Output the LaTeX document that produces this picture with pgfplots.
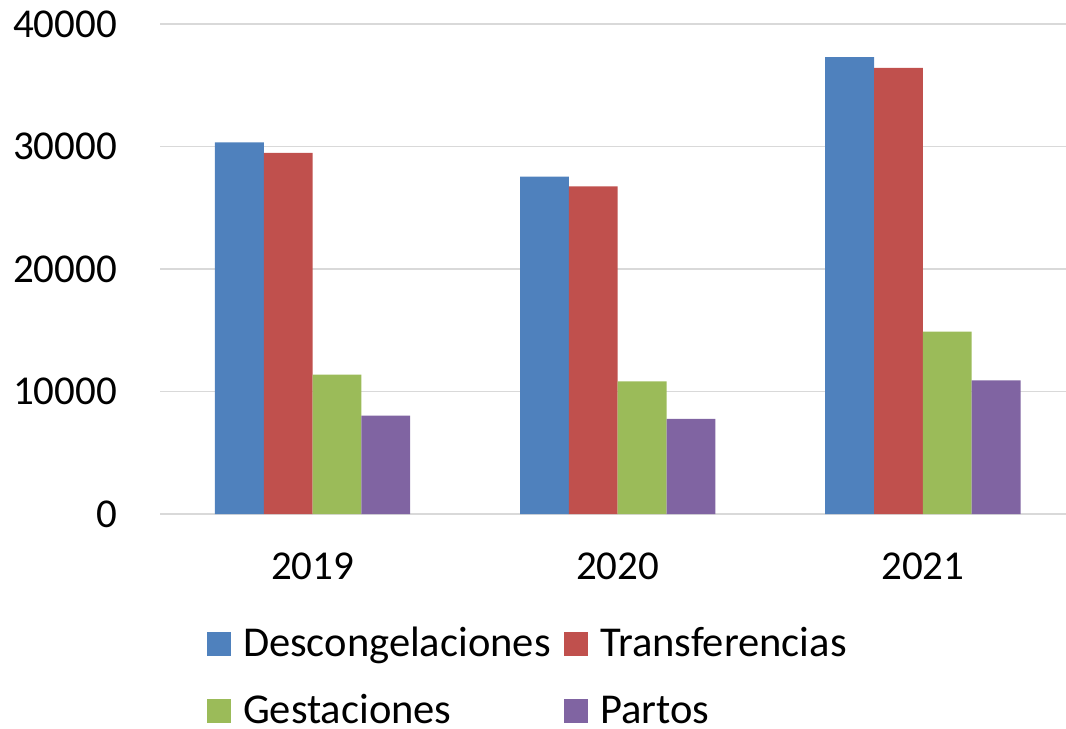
\documentclass[border=0pt]{standalone}
\usepackage{fontspec}
\setmainfont{Carlito}
\usepackage{pgfplots}
\pgfplotsset{compat=1.18}
\definecolor{cBlue}{HTML}{4F81BD}
\definecolor{cRed}{HTML}{C0504D}
\definecolor{cGreen}{HTML}{9BBB59}
\definecolor{cPurple}{HTML}{8064A2}
\definecolor{cGrid}{HTML}{D9D9D9}
\newcommand{\bigfont}{\fontsize{30.75pt}{36pt}\selectfont}
\newcommand{\legfont}{\fontsize{31.9pt}{36pt}\selectfont}
\pgfplotsset{sqleg/.style={legend image code/.code={%
  \fill[##1] (0pt,-9pt) rectangle (18pt,9pt);
  \path (27pt,0pt);}}}
\begin{document}
\begin{tikzpicture}
\path[use as bounding box] (0,0) rectangle (799.5pt,546pt);
\begin{axis}[
  at={(120pt,160.5pt)}, anchor=south west,
  scale only axis, width=679.5pt, height=367.5pt,
  xmin=-0.5, xmax=2.469, ymin=0, ymax=40000,
  ybar=0pt, bar width=0.16,
  xtick={0,1,2}, xticklabels={2019,2020,2021},
  ytick={0,10000,20000,30000,40000},
  scaled y ticks=false,
  /pgf/number format/.cd, fixed, 1000 sep={}, assume math mode=true, /pgfplots/.cd,
  major tick length=0pt,
  axis line style={draw=none},
  ymajorgrids, major grid style={cGrid, line width=1.3pt},
  tick label style={font=\bigfont},
  yticklabel style={inner sep=0pt, anchor=east, xshift=-32pt},
  xticklabel style={inner sep=0pt, anchor=north, yshift=-29pt},
  legend columns=2,
  legend style={at={(axis description cs:0.0519,-0.2245)}, anchor=north west,
    draw=none, fill=none, inner sep=0pt, outer sep=0pt, font=\legfont,
    cells={anchor=west}, row sep=20.25pt,
    nodes={inner sep=0pt, text height=24pt, text depth=6pt},
    /tikz/every even column/.append style={column sep=10pt}},
]
\addplot[draw=none, fill=cBlue, sqleg] coordinates {(0,30330) (1,27540) (2,37290)};
\addplot[draw=none, fill=cRed, sqleg] coordinates {(0,29480) (1,26740) (2,36410)};
\addplot[draw=none, fill=cGreen, sqleg] coordinates {(0,11380) (1,10830) (2,14890)};
\addplot[draw=none, fill=cPurple, sqleg] coordinates {(0,8040) (1,7760) (2,10910)};
\legend{Descongelaciones, Transferencias, Gestaciones, Partos}
\end{axis}
\end{tikzpicture}
\end{document}
